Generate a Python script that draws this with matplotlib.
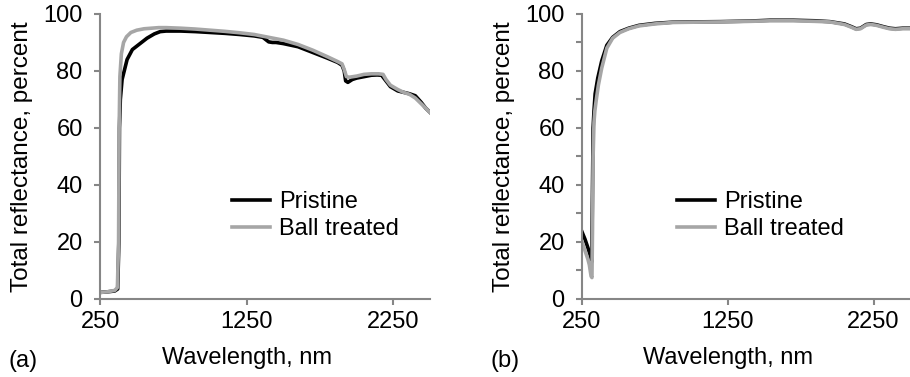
import matplotlib
matplotlib.use("Agg")
import matplotlib.pyplot as plt

plt.rcParams['font.family'] = ['Liberation Sans', 'DejaVu Sans']

# panel (a)
wl_a_pristine = [250, 300, 350, 370, 378, 382, 388, 400, 434, 470, 520, 570, 620, 660, 700, 800,
                 900, 1000, 1100, 1200, 1300, 1360, 1400, 1425, 1450, 1500, 1600, 1700, 1800, 1870,
                 1900, 1915, 1925, 1940, 1970, 2000, 2050, 2100, 2140, 2170, 2200, 2230, 2280,
                 2320, 2360, 2400, 2440, 2470, 2500]
r_a_pristine = [2.3, 2.5, 2.8, 3.5, 20, 60, 70, 77, 84, 87.5, 89.5, 91.5, 93, 93.8, 94, 94,
                93.8, 93.5, 93.2, 92.8, 92.3, 91.8, 90.2, 90, 90, 89.6, 88.5, 86.5, 84.5, 83,
                82, 80, 76.5, 76, 77, 77.5, 78, 78.5, 78.6, 78.5, 76.5, 74.5, 73,
                72.5, 72, 71.3, 69, 67, 65.5]
wl_a_ball = [250, 300, 350, 368, 376, 380, 385, 395, 410, 430, 460, 500, 550, 600, 650, 700,
             800, 900, 1000, 1100, 1200, 1300, 1400, 1500, 1600, 1700, 1800, 1870, 1900, 1915,
             1930, 1950, 2000, 2050, 2100, 2150, 2180, 2200, 2230, 2280, 2320, 2360, 2400,
             2440, 2470, 2500]
r_a_ball = [2.3, 2.5, 3, 4, 20, 60, 78, 86, 90, 92, 93.5, 94.3, 94.8, 95, 95.2, 95.2,
            95, 94.7, 94.3, 93.9, 93.4, 92.8, 91.8, 90.8, 89.3, 87.3, 85, 83.3, 82.5, 80.5,
            78, 77.8, 78.2, 78.8, 79, 79, 78.8, 77, 75, 73.5, 72.5, 71.8, 70.5,
            68.5, 67, 65.5]

# panel (b)
wl_b_pristine = [250, 270, 290, 305, 317, 321, 326, 332, 340, 358, 385, 420, 460, 510, 570, 640,
                 750, 870, 1000, 1200, 1400, 1540, 1700, 1850, 1950, 2050, 2100, 2130, 2160,
                 2200, 2230, 2270, 2320, 2360, 2400, 2450, 2500]
r_b_pristine = [23.5, 21, 18, 15.5, 13, 35, 60, 66, 72, 77.5, 83.5, 89, 91.8, 93.8, 95, 96,
                96.7, 97.1, 97.2, 97.3, 97.5, 97.8, 97.8, 97.6, 97.3, 96.5, 95.5, 94.8, 95,
                96.3, 96.5, 96.2, 95.5, 95, 94.8, 95, 95]
wl_b_ball = [250, 270, 290, 300, 312, 318, 322, 326, 332, 338, 348, 362, 385, 420, 460, 510,
             570, 640, 750, 870, 1000, 1200, 1400, 1540, 1700, 1850, 1950, 2050, 2100, 2130,
             2160, 2200, 2230, 2270, 2320, 2360, 2400, 2450, 2500]
r_b_ball = [20, 17, 14, 12, 8, 7.5, 25, 50, 62, 66, 70, 75, 81, 88, 91.5, 93.5,
            94.8, 95.8, 96.5, 97, 97.1, 97.2, 97.4, 97.6, 97.6, 97.4, 97.2, 96.3, 95.3, 94.6,
            94.8, 96.1, 96.3, 96, 95.3, 94.8, 94.6, 94.8, 94.8]

grey = "#a6a6a6"
axis_col = "#868686"
fs = 17

fig = plt.figure(figsize=(9.1, 3.77), dpi=100)
ax1 = fig.add_axes([0.11, 0.207, 0.3625, 0.756])
ax2 = fig.add_axes([0.6396, 0.207, 0.3604, 0.756])

panels = [(ax1, wl_a_pristine, r_a_pristine, wl_a_ball, r_a_ball, 20, (0.40, 0.378), "(a)", 0.009),
          (ax2, wl_b_pristine, r_b_pristine, wl_b_ball, r_b_ball, 10, (0.29, 0.378), "(b)", 0.539)]

for ax, wp, rp, wb, rb, ystep, legpos, tag, tagx in panels:
    ax.plot(wp, rp, color="black", lw=2.6, label="Pristine")
    ax.plot(wb, rb, color=grey, lw=2.6, label="Ball treated")
    ax.set_xlim(250, 2500)
    ax.set_ylim(0, 100)
    ax.set_xticks([250, 1250, 2250])
    ax.set_yticks(range(0, 101, ystep))
    if ystep == 10:
        ax.set_yticklabels([str(v) if v % 20 == 0 else "" for v in range(0, 101, 10)])
    for s in ["top", "right"]:
        ax.spines[s].set_visible(False)
    for s in ["left", "bottom"]:
        ax.spines[s].set_color(axis_col)
        ax.spines[s].set_linewidth(1.5)
    ax.tick_params(axis="y", direction="out", length=4, width=1.5, color=axis_col,
                   labelsize=fs, pad=8.5)
    ax.tick_params(axis="x", direction="out", length=4, width=1.5, color=axis_col,
                   labelsize=fs, pad=5)
    ax.set_xlabel("Wavelength, nm", fontsize=fs)
    ax.xaxis.set_label_coords(0.445, -0.168)
    ax.set_ylabel("Total reflectance, percent", fontsize=17.5)
    ax.yaxis.set_label_coords(-0.203, 0.5)
    ax.legend(loc="upper left", bbox_to_anchor=legpos, frameon=False, fontsize=fs,
              borderpad=0, borderaxespad=0, handlelength=1.6, handletextpad=0.38,
              labelspacing=0.2)
    fig.text(tagx, 0.042, tag, fontsize=fs, va="center")

fig.savefig("out.png", dpi=100)
